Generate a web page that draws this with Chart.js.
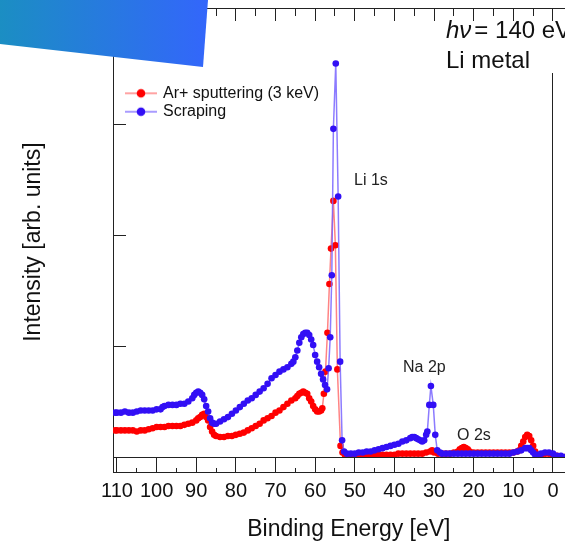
<!DOCTYPE html>
<html>
<head>
<meta charset="utf-8">
<script src="https://cdn.jsdelivr.net/npm/chart.js@4.4.1/dist/chart.umd.min.js"></script>
<style>
  html, body { margin: 0; padding: 0; overflow: hidden; background: #fff; }
  #wrap { width: 565px; height: 542px; overflow: hidden; }
</style>
</head>
<body>
<div id="wrap"><canvas id="spectrum" width="600" height="542"></canvas></div>
<script>
// Li metal valence / Li 1s spectra, hv = 140 eV
const seriesNames = ["Ar+ sputtering (3 keV)", "Scraping"];

// binding energy (eV) and intensity (arb. units)
const scrapingE = [110.5, 110, 109, 108, 107, 106, 105, 104, 103, 102, 101, 100, 99, 98.5, 98, 97, 96, 95, 94, 93, 92, 91, 90.5, 90, 89.5, 89, 88.5, 88, 87.5, 87, 86.5, 86, 85.5, 85, 84, 83, 82, 81, 80, 79, 78, 77, 76, 75, 74, 73, 72, 71, 70, 69, 68, 67, 66, 65.5, 65, 64.5, 64, 63.5, 63, 62.5, 62, 61.5, 61, 60.5, 60, 59.5, 59, 58.5, 58, 57.5, 57, 56.6, 56.2, 55.8, 55.4, 54.8, 54.2, 53.7, 53.2, 52.7, 52, 51, 50, 49, 48, 47, 46, 45, 44, 43, 42, 41, 40, 39, 38, 37, 36, 35.5, 35, 34.5, 34, 33.5, 33, 32.5, 32, 31.7, 31.2, 30.8, 30.2, 29.7, 29.2, 28.5, 28, 27, 26, 25, 24, 23, 22, 21, 20, 19, 18, 17, 16, 15, 14, 13, 12, 11, 10, 9, 8, 7, 6.5, 6, 5.5, 5, 4.5, 4, 3, 2, 1, 0, -1, -2, -3];
const scrapingI = [0.40, 0.40, 0.40, 0.41, 0.40, 0.40, 0.41, 0.42, 0.42, 0.42, 0.42, 0.43, 0.43, 0.45, 0.46, 0.47, 0.47, 0.47, 0.48, 0.48, 0.50, 0.53, 0.56, 0.58, 0.59, 0.58, 0.56, 0.52, 0.46, 0.41, 0.35, 0.31, 0.30, 0.30, 0.32, 0.34, 0.36, 0.39, 0.42, 0.45, 0.48, 0.51, 0.53, 0.56, 0.59, 0.62, 0.66, 0.71, 0.74, 0.77, 0.79, 0.81, 0.84, 0.86, 0.90, 0.96, 1.03, 1.08, 1.11, 1.12, 1.12, 1.10, 1.06, 1.01, 0.92, 0.86, 0.81, 0.75, 0.70, 0.65, 0.61, 0.80, 1.08, 1.64, 2.96, 3.55, 2.35, 0.86, 0.15, 0.05, 0.03, 0.03, 0.03, 0.04, 0.04, 0.05, 0.05, 0.06, 0.07, 0.08, 0.09, 0.10, 0.11, 0.12, 0.14, 0.15, 0.17, 0.18, 0.18, 0.17, 0.16, 0.15, 0.14, 0.15, 0.20, 0.23, 0.47, 0.64, 0.47, 0.20, 0.06, 0.04, 0.03, 0.03, 0.03, 0.03, 0.03, 0.03, 0.03, 0.03, 0.03, 0.03, 0.03, 0.03, 0.03, 0.03, 0.03, 0.03, 0.03, 0.03, 0.04, 0.05, 0.06, 0.08, 0.08, 0.08, 0.06, 0.04, 0.02, 0.02, 0.03, 0.04, 0.04, 0.03, 0.01, 0.01, 0.0];

const sputterE = [110.5, 110, 109, 108, 107, 106, 105, 104, 103, 102, 101, 100, 99, 98, 97, 96, 95, 94, 93, 92, 91, 90, 89.5, 89, 88.5, 88, 87.5, 87, 86.5, 86, 85.5, 85, 84, 83, 82, 81, 80, 79, 78, 77, 76, 75, 74, 73, 72, 71, 70, 69, 68, 67, 66, 65, 64.5, 64, 63.5, 63, 62.5, 62, 61.5, 61, 60.5, 60, 59.5, 59, 58.5, 58.2, 57.8, 57.4, 56.9, 56.4, 56, 55.4, 54.9, 54.4, 53.6, 53.1, 52.5, 52, 51, 50, 49, 48, 47, 46, 45, 44, 43, 42, 41, 40, 39, 38, 37, 36, 35, 34, 33, 32, 31, 30.5, 30, 29, 28, 27, 26, 25, 24, 23.5, 23, 22.5, 22, 21.5, 21, 20, 19, 18, 17, 16, 15, 14, 13, 12, 11, 10, 9, 8.5, 8, 7.5, 7, 6.5, 6, 5.5, 5, 4.5, 4, 3, 2, 1, 0, -1, -2, -3];
const sputterI = [0.24, 0.24, 0.24, 0.24, 0.24, 0.24, 0.23, 0.24, 0.24, 0.25, 0.26, 0.27, 0.27, 0.27, 0.28, 0.28, 0.28, 0.28, 0.29, 0.30, 0.31, 0.33, 0.35, 0.36, 0.38, 0.39, 0.36, 0.33, 0.27, 0.23, 0.20, 0.19, 0.18, 0.18, 0.19, 0.19, 0.20, 0.21, 0.22, 0.24, 0.26, 0.28, 0.30, 0.33, 0.35, 0.37, 0.40, 0.42, 0.45, 0.48, 0.51, 0.53, 0.55, 0.57, 0.58, 0.59, 0.58, 0.57, 0.53, 0.50, 0.46, 0.43, 0.41, 0.41, 0.42, 0.44, 0.57, 0.77, 1.12, 1.56, 1.88, 2.31, 1.91, 0.79, 0.10, 0.04, 0.02, 0.01, 0.01, 0.01, 0.01, 0.01, 0.01, 0.01, 0.02, 0.02, 0.02, 0.02, 0.02, 0.02, 0.03, 0.03, 0.03, 0.03, 0.03, 0.03, 0.03, 0.04, 0.05, 0.06, 0.04, 0.03, 0.03, 0.03, 0.03, 0.04, 0.05, 0.07, 0.08, 0.09, 0.08, 0.07, 0.05, 0.04, 0.04, 0.04, 0.04, 0.04, 0.04, 0.04, 0.04, 0.04, 0.04, 0.04, 0.05, 0.06, 0.10, 0.14, 0.18, 0.20, 0.19, 0.15, 0.10, 0.05, 0.02, 0.02, 0.03, 0.03, 0.02, 0.01, 0.0, 0.0];

const energyTicks = [-5, 0, 5, 10, 15, 20, 25, 30, 35, 40, 45, 50, 55, 60, 65, 70, 75, 80, 85, 90, 95, 100, 105, 110];
const intensityTicks = [0, 1, 2, 3];

const FONT = '"Liberation Sans", Arial, sans-serif';
const INK = "#222";
Chart.defaults.font.family = FONT;

const toPoints = (xs, ys) => xs.map((x, i) => ({ x: x, y: ys[i] }));

// small line-with-dot picture for the legend
function legendIcon(dot, line) {
  const c = document.createElement("canvas");
  c.width = 32;
  c.height = 12;
  const g = c.getContext("2d");
  g.strokeStyle = line;
  g.lineWidth = 1.5;
  g.beginPath();
  g.moveTo(0, 6);
  g.lineTo(32, 6);
  g.stroke();
  g.fillStyle = dot;
  g.beginPath();
  g.arc(16, 6, 4.3, 0, Math.PI * 2);
  g.fill();
  return c;
}

const extras = {
  id: "extras",
  afterLayout(chart) {
    // legend sits inside the frame, top left
    const lg = chart.legend;
    lg.left = 124.6;
    lg.top = 82.9;
    lg.right = lg.left + lg.width;
    lg.bottom = lg.top + 200;
  },
  afterDraw(chart) {
    const ctx = chart.ctx;
    const area = chart.chartArea;
    ctx.save();

    // second line under the bottom tick marks
    ctx.strokeStyle = INK;
    ctx.lineWidth = 1;
    ctx.beginPath();
    ctx.moveTo(113, 472.5);
    ctx.lineTo(chart.width, 472.5);
    ctx.moveTo(113.5, area.bottom);
    ctx.lineTo(113.5, 473);
    ctx.stroke();

    // peak names
    ctx.fillStyle = INK;
    ctx.font = "16px " + FONT;
    ctx.textBaseline = "alphabetic";
    ctx.fillText("Li 1s", 354, 185);
    ctx.fillText("Na 2p", 403, 372);
    ctx.fillText("O 2s", 457, 440);

    // photon energy / sample box
    ctx.fillStyle = "#fff";
    ctx.fillRect(440, 21, 170, 52);
    ctx.fillStyle = "#111";
    ctx.font = "italic 24px " + FONT;
    ctx.fillText("h\u03bd", 446, 38);
    const w = ctx.measureText("h\u03bd").width;
    ctx.font = "24px " + FONT;
    ctx.fillText("= 140 eV", 446 + w + 3, 38);
    ctx.fillText("Li metal", 446, 68);

    // slide banner corner
    const grad = ctx.createLinearGradient(0, 0, 208, 0);
    grad.addColorStop(0, "#1b8ec3");
    grad.addColorStop(1, "#3366fb");
    ctx.fillStyle = grad;
    ctx.beginPath();
    ctx.moveTo(0, 0);
    ctx.lineTo(208, 0);
    ctx.lineTo(203, 67);
    ctx.lineTo(0, 44);
    ctx.closePath();
    ctx.fill();

    ctx.restore();
  }
};

const ctx = document.getElementById("spectrum");
new Chart(ctx, {
  type: "scatter",
  data: {
    datasets: [
      {
        label: seriesNames[0],
        data: toPoints(sputterE, sputterI),
        showLine: true,
        borderColor: "rgba(255,110,110,0.85)",
        borderWidth: 1.5,
        pointBackgroundColor: "rgb(255,0,0)",
        pointBorderWidth: 0,
        pointRadius: 3.3,
        order: 2,
      },
      {
        label: seriesNames[1],
        data: toPoints(scrapingE, scrapingI),
        showLine: true,
        borderColor: "rgba(120,100,255,0.85)",
        borderWidth: 1.5,
        pointBackgroundColor: "rgb(50,15,245)",
        pointBorderWidth: 0,
        pointRadius: 3.3,
        order: 1,
      },
    ],
  },
  options: {
    responsive: false,
    animation: false,
    layout: { padding: { top: 8, right: 15.3, left: 0, bottom: 0 } },
    plugins: {
      tooltip: { enabled: false },
      legend: {
        position: "chartArea",
        align: "start",
        labels: {
          usePointStyle: true,
          pointStyleWidth: 28,
          padding: 2.4,
          color: "#111",
          font: { size: 16 },
          generateLabels: (chart) =>
            chart.data.datasets.map((ds, i) => ({
              text: ds.label,
              pointStyle: legendIcon(ds.pointBackgroundColor, ds.borderColor),
              fillStyle: ds.pointBackgroundColor,
              strokeStyle: ds.borderColor,
              lineWidth: 0,
              hidden: false,
              datasetIndex: i,
              fontColor: "#111",
            })),
        },
      },
    },
    scales: {
      x: {
        type: "linear",
        position: "bottom",
        reverse: true,
        min: -8,
        max: 111,
        afterBuildTicks: (scale) => {
          scale.ticks = energyTicks.map((v) => ({ value: v }));
        },
        afterFit: (scale) => {
          scale.height = 85;
        },
        border: { display: true, color: INK, width: 1 },
        grid: {
          drawOnChartArea: false,
          drawTicks: true,
          tickLength: 15,
          tickWidth: 1,
          tickColor: (c) => (c.tick && c.tick.value >= 0 ? INK : "rgba(0,0,0,0)"),
          tickBorderDash: (c) => (c.tick && c.tick.value % 10 !== 0 ? [0, 10, 5, 100] : []),
        },
        ticks: {
          autoSkip: false,
          maxRotation: 0,
          padding: 7,
          color: "#111",
          font: { size: 20 },
          callback: (v) => (v % 10 === 0 && v >= 0 ? String(v) : ""),
        },
        title: {
          display: true,
          text: "Binding Energy [eV]",
          color: "#111",
          font: { size: 23, lineHeight: 1.1 },
          padding: 0,
        },
      },
      x2: {
        type: "linear",
        position: "top",
        reverse: true,
        min: -8,
        max: 111,
        afterBuildTicks: (scale) => {
          scale.ticks = energyTicks.map((v) => ({ value: v }));
        },
        afterFit: (scale) => {
          scale.height = 0;
        },
        ticks: { display: false },
        border: {
          display: true,
          color: INK,
          width: 1,
          dash: (c) => {
            if (!c.tick) return [];
            if (c.tick.value === 0) return [];
            return c.tick.value % 10 === 0 ? [12, 2000] : [7, 2000];
          },
        },
        grid: {
          drawTicks: false,
          lineWidth: 1,
          color: (c) => (c.tick && c.tick.value >= 0 ? INK : "rgba(0,0,0,0)"),
        },
      },
      y: {
        type: "linear",
        position: "left",
        min: 0,
        max: 4.05,
        afterBuildTicks: (scale) => {
          scale.ticks = intensityTicks.map((v) => ({ value: v }));
        },
        afterFit: (scale) => {
          scale.width = 113;
        },
        ticks: { display: false },
        border: {
          display: true,
          color: INK,
          width: 1,
          dash: () => [12, 2000],
        },
        grid: {
          drawTicks: false,
          lineWidth: 1,
          color: (c) => (c.tick && c.tick.value > 0 ? INK : "rgba(0,0,0,0)"),
        },
        title: {
          display: true,
          // trailing spaces nudge the centred label down to where the original sits
          text: "Intensity [arb. units]   ",
          color: "#111",
          font: { size: 23, lineHeight: 1.1 },
          padding: { top: 21, bottom: 0 },
        },
      },
    },
  },
  plugins: [extras],
});
</script>
</body>
</html>
